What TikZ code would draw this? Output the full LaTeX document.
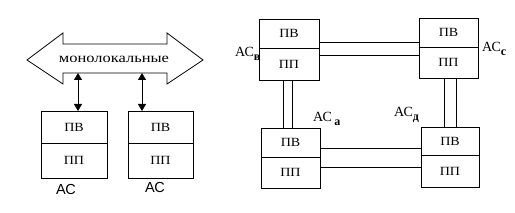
\documentclass[tikz,border=0pt]{standalone}
\usepackage{fontspec}
\setmainfont{Liberation Serif}
\newfontfamily\lsans{Liberation Sans}
\usetikzlibrary{arrows.meta}
\tikzset{
  ln/.style={line width=0.8pt},
  bx/.style={font=\fontsize{12.5}{12.5}\selectfont, inner sep=0pt},
  aclab/.style={font=\fontsize{14}{14}\selectfont, inner sep=0pt, anchor=base west},
  dbl/.style={<->, >={Triangle[width=8pt,length=7pt]}, line width=0.8pt}
}
\newcommand{\stack}[6]{% name, x1, y1, x2, y2, ydiv
  \draw[ln] (#2,#3) rectangle (#4,#5);
  \draw[ln] (#2,#6) -- (#4,#6);
  \node[bx] (#1v) at ({(#2+#4)/2},{(#3+#6)/2}) {\scalebox{1.12}[1]{ПВ}};
  \node[bx] (#1p) at ({(#2+#4)/2},{(#6+#5)/2}) {\scalebox{1.12}[1]{ПП}};
  \coordinate (#1) at ({(#2+#4)/2},{(#3+#5)/2});
}
\newcommand{\subl}[1]{\raisebox{-3.5pt}{\fontsize{12}{12}\selectfont\bfseries #1}}
\begin{document}
\begin{tikzpicture}[x=1pt,y=-1pt]
\useasboundingbox (0,0) rectangle (515,213);
% big double arrow
\draw[ln] (27,60) -- (63,33) -- (63,44) -- (167,44) -- (167,33) -- (203,60)
  -- (167,84) -- (167,73) -- (63,73) -- (63,84) -- cycle;
\node[font=\fontsize{13.5}{13.5}\selectfont, inner sep=0pt] (mono) at (114,59) {\scalebox{1.22}[1]{монолокальные}};
% left stacks
\stack{L1}{41}{111}{107}{178}{143}
\stack{L2}{128}{111}{193}{178}{143}
\coordinate (t1) at (78,73);
\coordinate (t2) at (142,73);
\coordinate (b1) at (78,111);
\coordinate (b2) at (142,111);
\draw[dbl] (t1) -- (b1);
\draw[dbl] (t2) -- (b2);
\node[font=\lsans\fontsize{14.5}{14.5}\selectfont, inner sep=0pt] (ac1) at (66,190) {АС};
\node[font=\lsans\fontsize{14.5}{14.5}\selectfont, inner sep=0pt] (ac2) at (155,188) {АС};
% right: four stacks
\stack{B}{259}{19}{319}{80}{48}
\stack{C}{419}{18}{478}{78}{47}
\stack{A}{261}{128}{320}{188}{157}
\stack{D}{421}{127}{479}{187}{155}
% double links
\draw[ln] (319,42) -- (419,42);
\draw[ln] (319,55) -- (419,55);
\draw[ln] (320,148) -- (421,148);
\draw[ln] (320,167) -- (421,167);
\draw[ln] (283,80) -- (283,128);
\draw[ln] (292,80) -- (292,128);
\draw[ln] (444,78) -- (444,127);
\draw[ln] (456,78) -- (456,127);
% labels
\node[aclab] (lb) at (235,57) {АС\subl{в}};
\node[aclab] (lc) at (482,52) {АС\subl{с}};
\node[aclab] (la) at (313,122) {АС\,\subl{а}};
\node[aclab] (ld) at (394,117) {АС\subl{д}};
\end{tikzpicture}
\end{document}
